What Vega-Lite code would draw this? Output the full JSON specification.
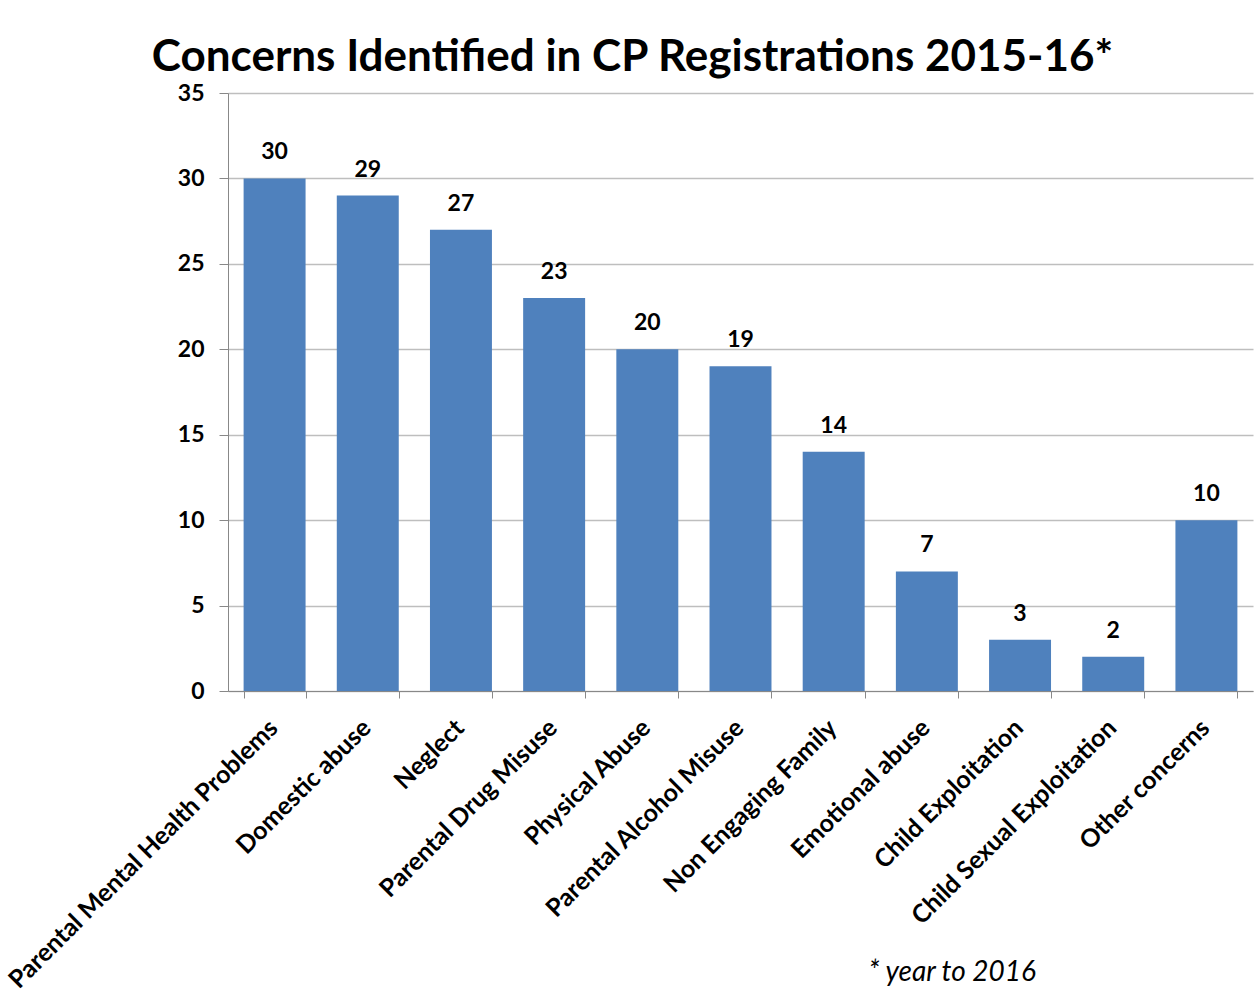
{
  "$schema": "https://vega.github.io/schema/vega-lite/v6.json",
  "autosize": "none",
  "width": 1025,
  "height": 598,
  "padding": {"left": 228, "top": 93, "right": 4, "bottom": 314},
  "background": "white",
  "title": {
    "text": "Concerns Identified in CP Registrations 2015-16*",
    "font": "Lato",
    "fontSize": 44,
    "fontWeight": "bold",
    "color": "black",
    "anchor": "middle",
    "dx": -108,
    "baseline": "alphabetic",
    "offset": -33
  },
  "data": {
    "values": [
      {"concern": "Parental Mental Health Problems", "count": 30},
      {"concern": "Domestic abuse", "count": 29},
      {"concern": "Neglect", "count": 27},
      {"concern": "Parental Drug Misuse", "count": 23},
      {"concern": "Physical Abuse", "count": 20},
      {"concern": "Parental Alcohol Misuse", "count": 19},
      {"concern": "Non Engaging Family", "count": 14},
      {"concern": "Emotional abuse", "count": 7},
      {"concern": "Child Exploitation", "count": 3},
      {"concern": "Child Sexual Exploitation", "count": 2},
      {"concern": "Other concerns", "count": 10}
    ]
  },
  "encoding": {
    "x": {
      "field": "concern",
      "type": "nominal",
      "sort": null,
      "scale": {"paddingInner": 0.335, "paddingOuter": 0.1675},
      "axis": {
        "title": "* year to 2016",
        "titleFont": "Lato",
        "titleFontSize": 28,
        "titleFontStyle": "italic",
        "titleFontWeight": "normal",
        "titleColor": "black",
        "titleAnchor": "start",
        "titleAlign": "left",
        "titleBaseline": "alphabetic",
        "titleX": 640,
        "titleY": 289,
        "labelAngle": -45,
        "labelFont": "Lato",
        "labelFontSize": 25,
        "labelFontWeight": "bold",
        "labelColor": "black",
        "labelPadding": 17,
        "labelOffset": -10,
        "labelLimit": 600,
        "labelOverlap": false,
        "tickBand": "extent",
        "tickSize": 7,
        "tickColor": "#888888",
        "domainColor": "#888888",
        "grid": false
      }
    },
    "y": {
      "field": "count",
      "type": "quantitative",
      "scale": {"domain": [0, 35], "nice": false},
      "axis": {
        "title": null,
        "values": [0, 5, 10, 15, 20, 25, 30, 35],
        "labelFont": "Lato",
        "labelFontSize": 23,
        "labelFontWeight": "bold",
        "labelColor": "black",
        "labelPadding": 15,
        "tickSize": 9,
        "tickColor": "#888888",
        "domainColor": "#888888",
        "gridColor": "#BEBEBE",
        "gridWidth": 1.3
      }
    }
  },
  "layer": [
    {"mark": {"type": "bar", "color": "#4F81BD"}},
    {
      "mark": {"type": "text", "font": "Lato", "fontSize": 23, "fontWeight": "bold", "color": "black", "dy": -19, "baseline": "alphabetic"},
      "encoding": {"text": {"field": "count", "type": "quantitative"}}
    }
  ],
  "config": {"view": {"stroke": null}}
}
